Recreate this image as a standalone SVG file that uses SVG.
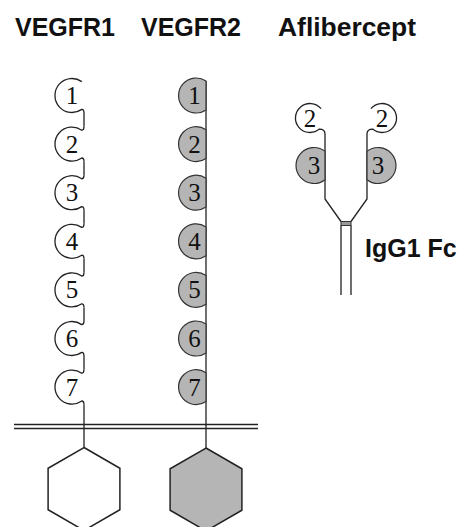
<svg xmlns="http://www.w3.org/2000/svg" width="463" height="527" viewBox="0 0 463 527">
<style>
.title{font-family:"Liberation Sans",Arial,sans-serif;font-weight:bold;font-size:25px;fill:#111}
.num{font-family:"Liberation Serif","Times New Roman",serif;font-size:25px;fill:#111;text-anchor:middle}
.open{fill:none;stroke:#222;stroke-width:1.3}
.gray{fill:#b5b5b5;stroke:#333;stroke-width:1.2}
.ln{fill:none;stroke:#222;stroke-width:1.3}
.hexw{fill:#fff;stroke:#222;stroke-width:1.5}
.hexg{fill:#b5b5b5;stroke:#222;stroke-width:1.5}
</style>
<rect width="463" height="527" fill="#fff"/>
<g id="titles">
<text class="title" x="15" y="36">VEGFR1</text>
<text class="title" x="141" y="36">VEGFR2</text>
<text class="title" x="278" y="36" textLength="138" lengthAdjust="spacingAndGlyphs">Aflibercept</text>
</g>
<g id="connectors">
<path class="ln" d="M84,113V126.6 M84,161.6V175.2 M84,210.2V223.8 M84,258.8V272.4 M84,307.4V321 M84,356V369.6 M84,404.6V447.5"/>
<path class="ln" d="M206,81V448"/>
<path class="ln" d="M14,424.5H258 M14,428.5H258"/>
<path class="ln" d="M325,134V199L341,221.5 M367,134V199L351,221.5 M341,225.5V295 M351,225.5V295"/>
<rect x="341" y="221.5" width="10" height="4" fill="#999" stroke="#333" stroke-width="1"/>
</g>
<g id="vegfr1">
<g id="r1d1"><path class="open" d="M81.75,81.6A17,17 0 1 0 81.75,109.4Q84,109.4 84,113"/><text class="num" x="72" y="104">1</text></g>
<g id="r1d2"><path class="open" d="M84,126.6Q84,130.2 81.75,130.2A17,17 0 1 0 81.75,158Q84,158 84,161.6"/><text class="num" x="72" y="152.6">2</text></g>
<g id="r1d3"><path class="open" d="M84,175.2Q84,178.8 81.75,178.8A17,17 0 1 0 81.75,206.6Q84,206.6 84,210.2"/><text class="num" x="72" y="201.2">3</text></g>
<g id="r1d4"><path class="open" d="M84,223.8Q84,227.4 81.75,227.4A17,17 0 1 0 81.75,255.2Q84,255.2 84,258.8"/><text class="num" x="72" y="249.8">4</text></g>
<g id="r1d5"><path class="open" d="M84,272.4Q84,276 81.75,276A17,17 0 1 0 81.75,303.8Q84,303.8 84,307.4"/><text class="num" x="72" y="298.4">5</text></g>
<g id="r1d6"><path class="open" d="M84,321Q84,324.6 81.75,324.6A17,17 0 1 0 81.75,352.4Q84,352.4 84,356"/><text class="num" x="72" y="347">6</text></g>
<g id="r1d7"><path class="open" d="M84,369.6Q84,373.2 81.75,373.2A17,17 0 1 0 81.75,401Q84,401 84,404.6"/><text class="num" x="72" y="395.6">7</text></g>
<g id="r1kinase"><polygon class="hexw" points="84,447.5 119.9,468.25 119.9,509.75 84,530.5 48.1,509.75 48.1,468.25"/></g>
</g>
<g id="vegfr2">
<g id="r2d1"><path class="gray" d="M206,81.1A17.5,17.5 0 1 0 206,109.9Z"/><text class="num" x="194.5" y="104">1</text></g>
<g id="r2d2"><path class="gray" d="M206,129.7A17.5,17.5 0 1 0 206,158.5Z"/><text class="num" x="194.5" y="152.6">2</text></g>
<g id="r2d3"><path class="gray" d="M206,178.3A17.5,17.5 0 1 0 206,207.1Z"/><text class="num" x="194.5" y="201.2">3</text></g>
<g id="r2d4"><path class="gray" d="M206,226.9A17.5,17.5 0 1 0 206,255.7Z"/><text class="num" x="194.5" y="249.8">4</text></g>
<g id="r2d5"><path class="gray" d="M206,275.5A17.5,17.5 0 1 0 206,304.3Z"/><text class="num" x="194.5" y="298.4">5</text></g>
<g id="r2d6"><path class="gray" d="M206,324.1A17.5,17.5 0 1 0 206,352.9Z"/><text class="num" x="194.5" y="347">6</text></g>
<g id="r2d7"><path class="gray" d="M206,372.7A17.5,17.5 0 1 0 206,401.5Z"/><text class="num" x="194.5" y="395.6">7</text></g>
<g id="r2kinase"><polygon class="hexg" points="206,448 241.9,468.75 241.9,510.25 206,531 170.1,510.25 170.1,468.75"/></g>
</g>
<g id="aflibercept">
<g id="a2l"><path class="open" d="M321.1,108.7A14.5,14.5 0 1 0 319.3,129.1Q325,129.1 325,134"/><text class="num" x="310" y="126.5">2</text></g>
<g id="a2r"><path class="open" d="M370.9,108.7A14.5,14.5 0 1 1 372.7,129.1Q367,129.1 367,134"/><text class="num" x="382" y="126.5">2</text></g>
<g id="a3l"><path class="gray" d="M325,151.25A18,18 0 1 0 325,179.75Z"/><text class="num" x="314" y="174">3</text></g>
<g id="a3r"><path class="gray" d="M367,151.25A18,18 0 1 1 367,179.75Z"/><text class="num" x="378" y="174">3</text></g>
<text class="title" x="365" y="257">IgG1 Fc</text>
</g>
</svg>
